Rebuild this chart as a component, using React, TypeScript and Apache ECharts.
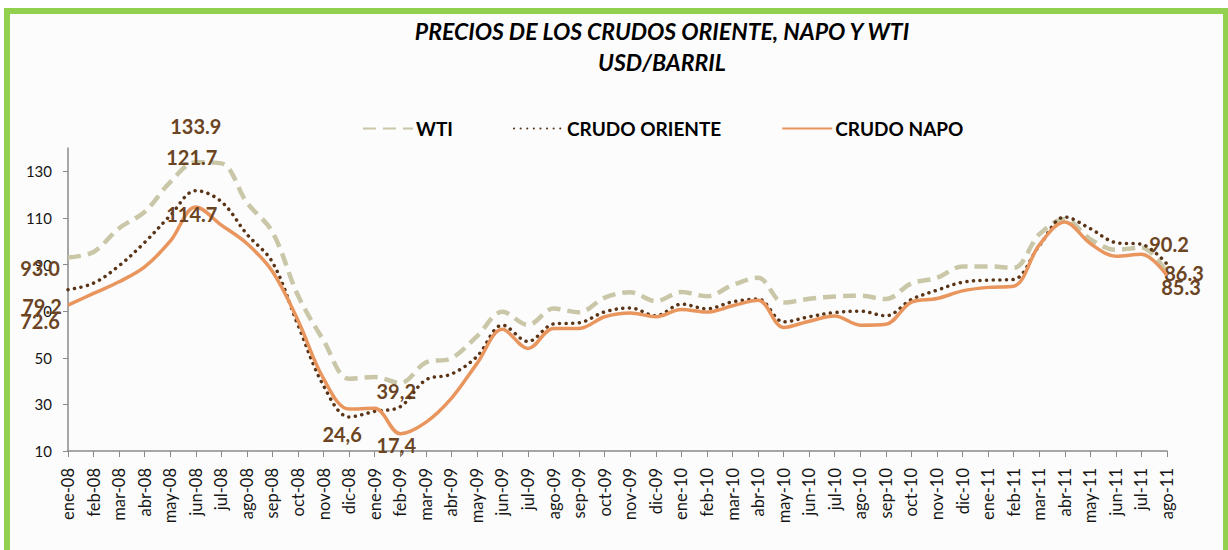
import React, { useEffect, useRef } from 'react';
import * as echarts from 'echarts';

const categories = [
  'ene-08', 'feb-08', 'mar-08', 'abr-08', 'may-08', 'jun-08', 'jul-08', 'ago-08', 'sep-08', 'oct-08', 'nov-08', 'dic-08',
  'ene-09', 'feb-09', 'mar-09', 'abr-09', 'may-09', 'jun-09', 'jul-09', 'ago-09', 'sep-09', 'oct-09', 'nov-09', 'dic-09',
  'ene-10', 'feb-10', 'mar-10', 'abr-10', 'may-10', 'jun-10', 'jul-10', 'ago-10', 'sep-10', 'oct-10', 'nov-10', 'dic-10',
  'ene-11', 'feb-11', 'mar-11', 'abr-11', 'may-11', 'jun-11', 'jul-11', 'ago-11',
];

const wti = [
  93.0, 95.4, 105.6, 112.6, 125.4, 133.9, 133.4, 116.6, 103.9, 76.7, 57.4, 41.0,
  41.7, 39.2, 48.0, 49.8, 59.2, 69.7, 64.1, 71.1, 69.5, 75.8, 78.1, 74.3,
  78.2, 76.4, 81.2, 84.3, 73.7, 75.3, 76.3, 76.6, 75.2, 81.9, 84.3, 89.2,
  89.2, 88.6, 102.9, 109.5, 100.9, 96.3, 97.3, 86.3,
];

const oriente = [
  79.2, 82.0, 89.5, 99.5, 111.0, 121.7, 117.0, 103.0, 91.0, 64.0, 38.0, 24.6,
  27.0, 29.0, 40.5, 43.0, 50.5, 64.0, 57.0, 64.5, 65.0, 69.7, 71.4, 68.0,
  73.0, 71.0, 74.0, 75.2, 65.4, 67.6, 69.4, 70.0, 68.0, 75.0, 79.0, 82.4,
  83.3, 83.6, 98.0, 110.4, 105.4, 99.4, 98.7, 90.2,
];

const napo = [
  72.6, 77.6, 82.6, 89.0, 100.0, 114.7, 106.9, 99.0, 87.0, 66.0, 41.0, 28.0,
  28.3, 17.4, 22.3, 32.6, 47.5, 62.2, 54.0, 62.6, 62.6, 67.6, 69.2, 67.6,
  70.7, 69.6, 72.3, 74.7, 63.0, 65.7, 67.9, 64.0, 64.4, 73.9, 75.4, 78.7,
  80.2, 80.7, 98.3, 108.3, 99.0, 93.6, 94.4, 85.3,
];

const yTicks = [10, 30, 50, 70, 90, 110, 130];

const seriesNames = ['WTI', 'CRUDO ORIENTE', 'CRUDO NAPO'];

const wtiLabels: Record<number, string> = { 0: '93.0', 5: '133.9', 13: '39,2', 43: '86.3' };
const orienteLabels: Record<number, string> = { 0: '79.2', 5: '121.7', 11: '24,6', 43: '90.2' };
const napoLabels: Record<number, string> = { 0: '72.6', 5: '114.7', 13: '17,4', 43: '85.3' };

const titleLines = ['PRECIOS DE LOS CRUDOS ORIENTE, NAPO Y WTI', 'USD/BARRIL'];

// label offsets (styling only)
const wtiOffsets: Record<number, number[]> = { 0: [-28, 10], 5: [0, -36], 13: [-4, 8], 43: [17, 0] };
const orienteOffsets: Record<number, number[]> = { 0: [-26, 16], 5: [-4, -34], 11: [-7, 17], 43: [2, -20] };
const napoOffsets: Record<number, number[]> = { 0: [-28, 16], 5: [-4, 7], 13: [-4, 11], 43: [14, 12] };

const FONT = 'Lato, "Open Sans", sans-serif';
const LABEL_COLOR = '#6B4423';

function withLabels(vals: number[], labels: Record<number, string>, offs: Record<number, number[]>) {
  return vals.map((v, i) =>
    labels[i] !== undefined
      ? { value: v, label: { show: true, formatter: labels[i], offset: offs[i] } }
      : v
  );
}

export default function App() {
  const ref = useRef<HTMLDivElement>(null);
  useEffect(() => {
    if (!ref.current) return;
    const chart = echarts.init(ref.current, undefined, { renderer: 'svg' });
    const baseLabel = {
      show: false,
      position: 'inside',
      color: LABEL_COLOR,
      fontFamily: FONT,
      fontWeight: 'bold',
      fontSize: 20,
    };
    chart.setOption({
      animation: false,
      backgroundColor: '#ffffff',
      graphic: [
        { type: 'rect', z: -10, shape: { x: 4, y: 8, width: 1224, height: 542 }, style: { fill: '#fcfcfc' } },
        { type: 'rect', z: -5, shape: { x: 4, y: 8, width: 6, height: 542 }, style: { fill: '#92D050' } },
        { type: 'rect', z: -5, shape: { x: 4, y: 8, width: 1224, height: 6 }, style: { fill: '#92D050' } },
        { type: 'rect', z: -5, shape: { x: 1223, y: 8, width: 5, height: 542 }, style: { fill: '#92D050' } },
        {
          type: 'text', x: 662, y: 31,
          style: { text: titleLines[0], textAlign: 'center', textVerticalAlign: 'middle', fill: '#000', font: `italic bold 23px ${FONT}` },
        },
        {
          type: 'text', x: 662, y: 62,
          style: { text: titleLines[1], textAlign: 'center', textVerticalAlign: 'middle', fill: '#000', font: `italic bold 23px ${FONT}` },
        },
      ],
      legend: {
        data: seriesNames,
        left: 357,
        top: 114,
        itemWidth: 50,
        itemHeight: 14,
        itemGap: 60,
        itemStyle: { opacity: 0 },
        textStyle: { fontFamily: FONT, fontWeight: 'bold', fontSize: 19, color: '#000', padding: [0, 0, 0, -2] },
      },
      grid: { left: 68, right: 61, top: 148, bottom: 99, containLabel: false },
      xAxis: {
        type: 'category',
        data: categories,
        boundaryGap: false,
        axisLine: { lineStyle: { color: '#8a8a8a', width: 1.5 } },
        axisTick: { show: true, length: 6, lineStyle: { color: '#8a8a8a' }, interval: 0 },
        axisLabel: { rotate: 90, interval: 0, margin: 17, fontSize: 16.5, color: '#151515', fontFamily: FONT },
        splitLine: { show: false },
      },
      yAxis: {
        type: 'value',
        min: 10,
        max: 140,
        interval: 20,
        axisLine: { show: true, lineStyle: { color: '#8a8a8a', width: 1.5 } },
        axisTick: { show: true, length: 5, lineStyle: { color: '#8a8a8a' }, customValues: yTicks },
        axisLabel: { margin: 16, fontSize: 15, color: '#151515', fontFamily: FONT, customValues: yTicks },
        splitLine: { show: false },
      },
      series: [
        {
          name: seriesNames[0],
          type: 'line',
          smooth: 0.35,
          symbol: 'circle',
          symbolSize: 0,
          showSymbol: true,
          data: withLabels(wti, wtiLabels, wtiOffsets),
          label: baseLabel,
          itemStyle: { color: '#C9C7A8' },
          lineStyle: { color: '#C9C7A8', width: 4.5, type: [13, 7] },
          emphasis: { disabled: true },
          z: 2,
        },
        {
          name: seriesNames[1],
          type: 'line',
          smooth: 0.35,
          symbol: 'circle',
          symbolSize: 0,
          showSymbol: true,
          data: withLabels(oriente, orienteLabels, orienteOffsets),
          label: baseLabel,
          itemStyle: { color: '#5A3417' },
          lineStyle: { color: '#5A3417', width: 3.5, type: [0.1, 6.5], cap: 'round' },
          emphasis: { disabled: true },
          z: 3,
        },
        {
          name: seriesNames[2],
          type: 'line',
          smooth: 0.35,
          symbol: 'circle',
          symbolSize: 0,
          showSymbol: true,
          data: withLabels(napo, napoLabels, napoOffsets),
          label: baseLabel,
          itemStyle: { color: '#E8955E' },
          lineStyle: { color: '#E8955E', width: 3.5 },
          emphasis: { disabled: true },
          z: 4,
        },
      ],
    });
    return () => chart.dispose();
  }, []);
  return (
    <div
      ref={ref}
      style={{ position: 'absolute', left: 0, top: 0, width: 1228, height: 550, background: '#fff' }}
    />
  );
}
